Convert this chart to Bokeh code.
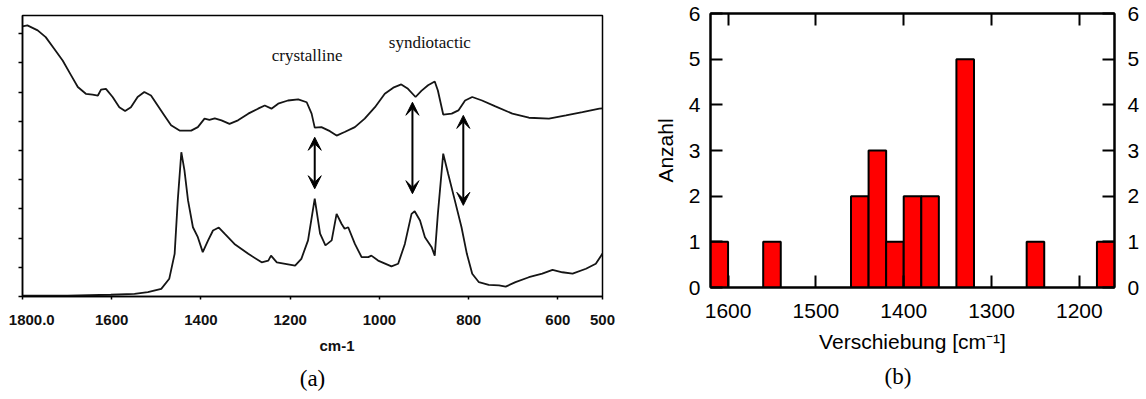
from bokeh.plotting import figure
from bokeh.models import Range1d, FixedTicker, LinearAxis, Arrow, VeeHead, Title, ColumnDataSource
from bokeh.core.properties import value
from bokeh.embed import file_html
from bokeh.resources import INLINE

# ---------------- Panel (a): IR spectra ----------------
upper_cm = [1800, 1789, 1766, 1748, 1729, 1710, 1691, 1676, 1658, 1643, 1631, 1624, 1613, 1598,
            1583, 1570, 1557, 1542, 1527, 1512, 1497, 1482, 1467, 1448, 1422, 1407, 1392, 1381,
            1369, 1354, 1336, 1317, 1294, 1272, 1257, 1242, 1227, 1205, 1182, 1163, 1152, 1145,
            1130, 1111, 1096, 1078, 1055, 1033, 1010, 988, 969, 951, 936, 919, 906, 891, 876,
            869, 857, 838, 823, 808, 792, 770, 740, 702, 665, 620, 582, 545, 507, 500]
upper_val = [9.25, 9.28, 9.11, 8.88, 8.48, 8.08, 7.57, 7.17, 6.94, 6.91, 6.88, 7.08, 7.11, 6.83,
             6.48, 6.35, 6.48, 6.83, 7.00, 6.88, 6.54, 6.20, 5.86, 5.68, 5.68, 5.80, 6.09, 6.05,
             6.10, 6.03, 5.91, 6.03, 6.26, 6.43, 6.54, 6.43, 6.60, 6.71, 6.75, 6.65, 6.26, 5.78,
             5.80, 5.66, 5.51, 5.63, 5.80, 6.09, 6.48, 6.94, 7.15, 7.26, 7.11, 6.83, 7.04, 7.23, 7.36,
             7.05, 6.23, 6.26, 6.37, 6.71, 6.83, 6.71, 6.51, 6.26, 6.12, 6.09, 6.20, 6.31, 6.43, 6.44]

lower_cm = [1800, 1699, 1602, 1549, 1519, 1489, 1471, 1459, 1452, 1444, 1437, 1429, 1418, 1407,
            1396, 1384, 1373, 1360, 1347, 1325, 1294, 1264, 1249, 1243, 1230, 1211, 1189, 1175,
            1160, 1145, 1133, 1121, 1107, 1096, 1085, 1078, 1070, 1055, 1040, 1025, 1018, 1003,
            973, 958, 943, 928, 921, 909, 898, 883, 876, 869, 857, 846, 831, 816, 804, 792, 777,
            755, 732, 717, 695, 665, 635, 612, 590, 567, 537, 515, 500]
lower_val = [0.03, 0.03, 0.06, 0.09, 0.15, 0.26, 0.61, 1.46, 3.29, 4.94, 4.32, 3.29, 2.37, 2.03,
             1.52, 1.92, 2.26, 2.36, 2.15, 1.80, 1.46, 1.17, 1.23, 1.40, 1.17, 1.12, 1.06, 1.29,
             1.92, 3.35, 2.15, 1.75, 1.92, 2.83, 2.49, 2.32, 2.37, 1.80, 1.35, 1.35, 1.40, 1.23,
             1.03, 1.12, 1.80, 2.83, 2.92, 2.60, 2.03, 1.69, 1.40, 2.83, 4.89, 4.20, 3.29, 2.37, 1.46,
             0.78, 0.49, 0.40, 0.38, 0.34, 0.49, 0.66, 0.78, 0.91, 0.83, 0.78, 0.95, 1.12, 1.47]

arrow_cm = [1145, 926, 812]
arrow_top = [5.45, 6.65, 6.20]
arrow_bottom = [3.69, 3.52, 3.12]

note_text = ["crystalline", "syndiotactic"]
note_cm = [1162, 887]
note_val = [8.25, 8.70]

a_xticks = [1800, 1600, 1400, 1200, 1000, 800, 600, 500]
a_yticks = [0, 1, 2, 3, 4, 5, 6, 7, 8, 9]

# ---------------- Panel (b): histogram ----------------
shift_centers = [1610, 1550, 1450, 1430, 1410, 1390, 1370, 1330, 1250, 1170]
counts = [1, 1, 2, 3, 1, 2, 2, 5, 1, 1]
bin_width = 20
b_xticks = [1600, 1500, 1400, 1300, 1200]
b_yticks = [0, 1, 2, 3, 4, 5, 6]

SANS = "Liberation Sans"
SERIF = "Liberation Serif"

# ---------- figure (a) ----------
p1 = figure(width=650, height=399, x_range=Range1d(1800, 500), y_range=Range1d(0, 9.62),
            output_backend="svg", toolbar_location=None,
            min_border_left=22, min_border_right=48, min_border_top=15, min_border_bottom=103)
p1.grid.visible = False
p1.outline_line_color = "black"
p1.outline_line_width = 1.5

p1.line(upper_cm, upper_val, line_color="#151515", line_width=1.8)
p1.line(lower_cm, lower_val, line_color="#151515", line_width=1.8)

src_arrows = ColumnDataSource(dict(x=arrow_cm, top=arrow_top, bottom=arrow_bottom))
p1.add_layout(Arrow(x_start="x", y_start="top", x_end="x", y_end="bottom", source=src_arrows,
                    line_width=2, line_color="black",
                    start=VeeHead(size=13, fill_color="black", line_color="black"),
                    end=VeeHead(size=13, fill_color="black", line_color="black")))

p1.text(x=note_cm, y=note_val, text=note_text, text_font=value(SERIF), text_font_size="17px",
        text_align="center", text_baseline="middle", text_color="#111111")

xa = p1.xaxis[0]
xa.ticker = FixedTicker(ticks=a_xticks)
xa.major_label_overrides = {1800: "\u00a0\u00a01800.0"}
xa.minor_tick_line_color = None
xa.major_tick_in = 0
xa.major_tick_out = 3
xa.major_tick_line_width = 1.5
xa.axis_line_width = 1.5
xa.major_label_text_font = SANS
xa.major_label_text_font_style = "bold"
xa.major_label_text_font_size = "15px"
xa.major_label_text_color = "#111111"
xa.major_label_standoff = 11

ya = p1.yaxis[0]
ya.ticker = FixedTicker(ticks=a_yticks)
ya.minor_tick_line_color = None
ya.major_tick_in = 0
ya.major_tick_out = 4
ya.major_tick_line_width = 1.5
ya.axis_line_width = 1.5
ya.major_label_text_color = None
ya.major_label_text_font_size = "8px"

p1.add_layout(Title(text="cm-1", align="left", offset=297, standoff=10, vertical_align="middle",
                    text_font=SANS, text_font_style="bold", text_font_size="15px",
                    text_color="#111111"), "below")
p1.add_layout(Title(text="(a)", align="center", standoff=11, vertical_align="middle",
                    text_font=SERIF, text_font_style="normal", text_font_size="23px",
                    text_color="black"), "below")

# ---------- figure (b) ----------
p2 = figure(width=496, height=399, x_range=Range1d(1620, 1160), y_range=Range1d(0, 6),
            output_backend="svg", toolbar_location=None,
            min_border_left=60, min_border_right=32, min_border_top=13, min_border_bottom=112)
p2.grid.visible = False
p2.outline_line_color = "black"
p2.outline_line_width = 2

p2.vbar(x=shift_centers, width=bin_width, top=counts, bottom=0,
        fill_color="#ff0000", line_color="black", line_width=2)


def style_axis(ax, ticks, show_labels=True):
    ax.ticker = FixedTicker(ticks=ticks)
    ax.minor_tick_line_color = None
    ax.major_tick_in = 12
    ax.major_tick_out = 0
    ax.major_tick_line_width = 2
    ax.major_tick_line_color = "black"
    ax.axis_line_width = 2
    ax.axis_line_color = "black"
    ax.major_label_text_font = SANS
    ax.major_label_text_color = "black"
    if show_labels:
        ax.major_label_text_font_size = "21px"
    else:
        ax.major_label_text_font_size = "0px"
        ax.major_label_text_color = None
        ax.major_label_standoff = 0


bx = p2.xaxis[0]
style_axis(bx, b_xticks)
bx.major_label_standoff = 16
bx.axis_label = "Verschiebung [cm⁻¹]"
bx.axis_label_text_font = SANS
bx.axis_label_text_font_style = "normal"
bx.axis_label_text_font_size = "21px"
bx.axis_label_text_color = "black"
bx.axis_label_standoff = 9

by = p2.yaxis[0]
style_axis(by, b_yticks)
by.major_label_standoff = 10
by.axis_label = "Anzahl"
by.axis_label_text_font = SANS
by.axis_label_text_font_style = "normal"
by.axis_label_text_font_size = "21px"
by.axis_label_text_color = "black"
by.axis_label_standoff = 9

ry = LinearAxis()
style_axis(ry, b_yticks)
ry.major_label_standoff = 13
p2.add_layout(ry, "right")

tx = LinearAxis()
style_axis(tx, b_xticks, show_labels=False)
p2.add_layout(tx, "above")

p2.add_layout(Title(text="(b)", align="left", offset=174, standoff=15, vertical_align="middle",
                    text_font=SERIF, text_font_style="normal", text_font_size="23px",
                    text_color="black"), "below")

template = """
{% from macros import embed with context %}
{% block postamble %}
<style>html, body { margin: 0; padding: 0; } .panels { display: flex; flex-direction: row; align-items: flex-start; }</style>
{% endblock %}
{% block contents %}
<div class="panels">
{% for doc in docs %}{% for root in doc.roots %}{{ embed(root) }}{% endfor %}{% endfor %}
</div>
{% endblock %}
"""

open("out.html", "w").write(file_html([p1, p2], INLINE, template=template))
